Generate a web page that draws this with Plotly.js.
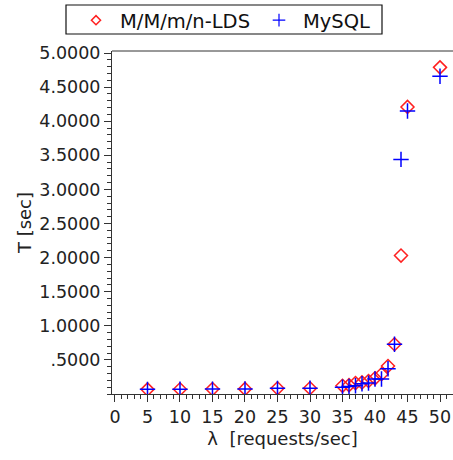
<!DOCTYPE html>
<html>
<head>
<meta charset="utf-8">
<script src="https://cdn.plot.ly/plotly-3.0.1.min.js"></script>
<style>html,body{margin:0;padding:0;background:#fff;}#chart{width:453px;height:460px;}</style>
</head>
<body>
<div id="chart"></div>
<script>
const lambdaValues = [5, 10, 15, 20, 25, 30, 35, 36, 37, 38, 39, 40, 41, 42, 43, 44, 45, 50];
const ldsT = [0.068, 0.07, 0.072, 0.075, 0.083, 0.085, 0.12, 0.13, 0.16, 0.17, 0.19, 0.23, 0.29, 0.41, 0.73, 2.03, 4.21, 4.79];
const mysqlT = [0.068, 0.07, 0.072, 0.075, 0.083, 0.085, 0.10, 0.11, 0.12, 0.15, 0.16, 0.22, 0.22, 0.37, 0.73, 3.44, 4.15, 4.66];
const yTickVals = [0.5, 1.0, 1.5, 2.0, 2.5, 3.0, 3.5, 4.0, 4.5, 5.0];
const yTickText = ['.5000', '1.0000', '1.5000', '2.0000', '2.5000', '3.0000', '3.5000', '4.0000', '4.5000', '5.0000'];
const seriesNames = ['M/M/m/n-LDS', 'MySQL'];

const font = 'DejaVu Sans, sans-serif';
const red = '#ff2020', blue = '#0000ff';
const traces = [
  {x: lambdaValues, y: ldsT, name: seriesNames[0], type: 'scatter', mode: 'markers', showlegend: false,
   marker: {symbol: 'diamond-open', size: 10, color: red, line: {width: 1.5, color: red}}},
  {x: lambdaValues, y: mysqlT, name: seriesNames[1], type: 'scatter', mode: 'markers', showlegend: false,
   marker: {symbol: 'cross-thin', size: 11, color: blue, line: {width: 1.5, color: blue}}},
  {x: [null], y: [null], name: seriesNames[0], type: 'scatter', mode: 'markers',
   marker: {symbol: 'diamond-open', size: 7, color: red, line: {width: 1.5, color: red}}},
  {x: [null], y: [null], name: seriesNames[1], type: 'scatter', mode: 'markers',
   marker: {symbol: 'cross-thin', size: 9, color: blue, line: {width: 1.2, color: blue}}}
];
const layout = {
  width: 453, height: 460,
  margin: {l: 112, r: 0, t: 51, b: 66},
  paper_bgcolor: '#fff', plot_bgcolor: '#fff',
  font: {family: font, color: '#222', size: 17},
  showlegend: true,
  legend: {orientation: 'h', x: (72 - 112) / 341, xanchor: 'left', y: (394 - 1) / 343, yanchor: 'top',
    bgcolor: 'rgba(0,0,0,0)', borderwidth: 0, itemwidth: 38, entrywidth: 130, entrywidthmode: 'pixels',
    font: {family: font, size: 19.5, color: '#111'}},
  xaxis: {range: [-0.46, 52], tickmode: 'linear', tick0: 0, dtick: 5,
    showgrid: false, zeroline: false, showline: true, linecolor: '#333', linewidth: 1,
    ticks: 'outside', ticklen: 7, tickcolor: '#333',
    minor: {dtick: 1, tick0: 0, ticks: 'outside', ticklen: 4, tickcolor: '#333', showgrid: false},
    tickfont: {family: font, size: 17.5, color: '#222'},
    title: {text: 'λ  [requests/sec]', font: {family: font, size: 18, color: '#222'}, standoff: 6}},
  yaxis: {range: [0, 5.03], tickmode: 'array', tickvals: yTickVals, ticktext: yTickText,
    showgrid: false, zeroline: false, showline: true, linecolor: '#333', linewidth: 1,
    ticks: 'outside', ticklen: 7, tickcolor: '#333',
    minor: {dtick: 0.1, tick0: 0, ticks: 'outside', ticklen: 4, tickcolor: '#333', showgrid: false},
    tickfont: {family: font, size: 17.5, color: '#222'},
    title: {text: 'T [sec]', font: {family: font, size: 18, color: '#222'}, standoff: 2}},
  shapes: [
    {type: 'line', xref: 'paper', yref: 'paper', x0: 0, x1: 1, y0: 1, y1: 1, line: {color: '#333', width: 1}},
    {type: 'rect', xref: 'paper', yref: 'paper', x0: (66 - 112) / 341, x1: (382 - 112) / 341,
     y0: (394 - 34) / 343, y1: (394 - 5) / 343, line: {color: '#111', width: 1.2}}
  ]
};
Plotly.newPlot('chart', traces, layout, {displayModeBar: false, staticPlot: true});
</script>
</body>
</html>
